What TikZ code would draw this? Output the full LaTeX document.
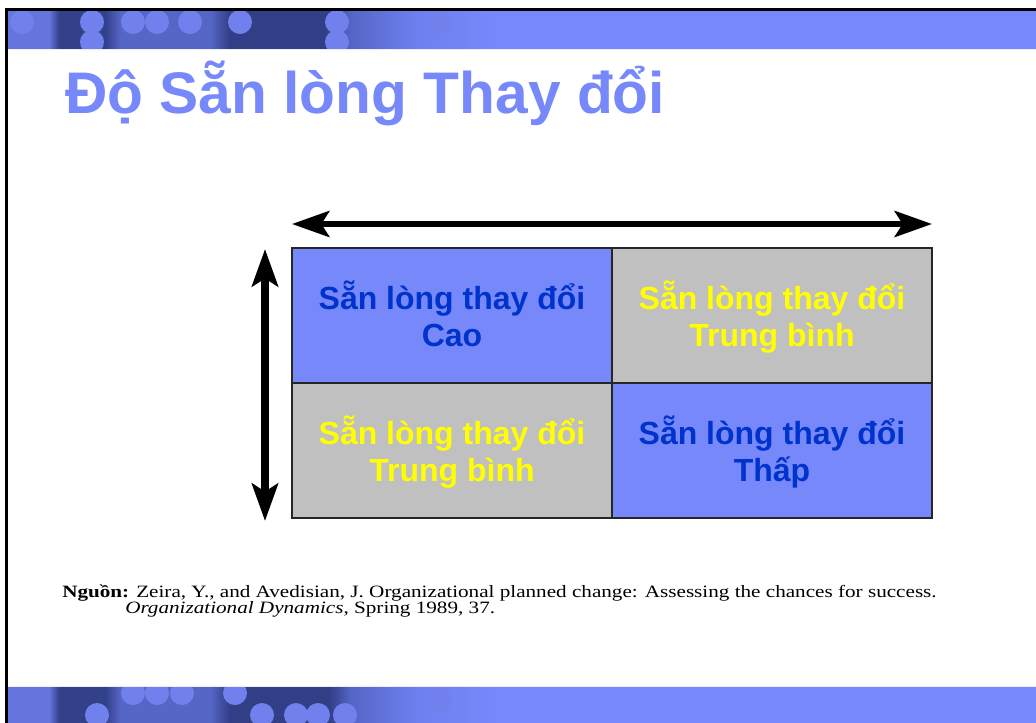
\documentclass[tikz,border=0pt]{standalone}
\usepackage{fontspec}
\setmainfont{Liberation Serif}
\newfontfamily\arialfont{Liberation Sans}
\newfontfamily\widetimes[FakeStretch=1.22]{Liberation Serif}
\usetikzlibrary{arrows.meta}
\definecolor{bandblue}{HTML}{7789FA}
\definecolor{cellblue}{HTML}{7789FA}
\definecolor{cellgray}{HTML}{C0C0C0}
\definecolor{txtblue}{HTML}{0033CC}
\definecolor{txtyellow}{HTML}{FFFF00}
\definecolor{circblue}{HTML}{7081EE}
\definecolor{hA}{HTML}{6575DE}
\definecolor{hB}{HTML}{33408A}
\definecolor{hC}{HTML}{5666C6}
\definecolor{hD}{HTML}{323E86}
\definecolor{hE}{HTML}{5465C6}
\definecolor{hF}{HTML}{6E80F0}
\pgfdeclarehorizontalshading{hdrshade}{100bp}{%
 color(0bp)=(hA); color(25bp)=(hA); color(29bp)=(hA); color(30bp)=(hB);
 color(34.5bp)=(hB); color(36bp)=(hC); color(44.7bp)=(hC); color(46.7bp)=(hD);
 color(56.4bp)=(hD); color(58.4bp)=(hE); color(65bp)=(hF); color(73bp)=(bandblue);
 color(100bp)=(bandblue)}
\tikzset{
  cellbox/.style={draw=black!85, line width=0.9pt, minimum width=240pt, minimum height=101.25pt, inner sep=0pt},
  bluecell/.style={cellbox, fill=cellblue},
  graycell/.style={cellbox, fill=cellgray},
  celltext/.style={align=center, inner sep=0pt, font=\arialfont\bfseries\fontsize{24}{27.75}\selectfont},
  bluetext/.style={celltext, text=txtblue},
  yellowtext/.style={celltext, text=txtyellow},
  harrow/.style={line width=4.5pt, {Stealth[length=28pt,width=19.5pt,inset=6pt]}-{Stealth[length=28pt,width=19.5pt,inset=6pt]}},
  varrow/.style={line width=6pt, {Stealth[length=28pt,width=19.5pt,inset=6pt]}-{Stealth[length=28pt,width=19.5pt,inset=6pt]}},
  deco/.style={fill=circblue},
  srctext/.style={anchor=base west, inner sep=0pt, font=\widetimes\fontsize{13}{16}\selectfont}
}
\begin{document}
\begin{tikzpicture}[x=0.75pt,y=-0.75pt]
\useasboundingbox (0,0) rectangle (1036,722);
\fill[white] (-5,-5) rectangle (1045,730);
% frame lines
\fill[black] (5,8) rectangle (1045,11);
\fill[black] (5,8) rectangle (8,730);
% header band
\fill[bandblue] (8,11) rectangle (1045,49);
\fill[shading=hdrshade] (8,11) rectangle (520,49);
\begin{scope}
\clip (8,11) rectangle (520,49);
\foreach \cx/\cy in {22/22, 92/22, 92/42, 133/22, 157/22, 190/22, 240/22, 337/22, 337/42, 440/22}
  \fill[deco] (\cx,\cy) circle (12);
\end{scope}
\fill[white!85!bandblue] (8,49) rectangle (1045,50);
% footer band
\fill[bandblue] (8,687) rectangle (1045,730);
\fill[shading=hdrshade] (8,687) rectangle (520,730);
\begin{scope}
\clip (8,687) rectangle (520,730);
\foreach \cx/\cy in {97/715, 133/693, 157/693, 182/693, 235/693, 262/715, 296/715, 318/715, 345/715, 440/700}
  \fill[deco] (\cx,\cy) circle (12);
\end{scope}
\fill[white!85!bandblue] (8,686) rectangle (1045,687);
% title
\node[anchor=base west, inner sep=0pt, text=bandblue, font=\arialfont\bfseries\fontsize{44}{50}\selectfont] (title) at (65,113) {Độ Sẵn lòng Thay đổi};
% cells
\node[bluecell] (tl) at (452,315.5) {};
\node[graycell] (tr) at (772,315.5) {};
\node[graycell] (bl) at (452,450.5) {};
\node[bluecell] (br) at (772,450.5) {};
\node[bluetext] (tlt) at ([yshift=-3pt]tl.center) {\strut Sẵn lòng thay đổi\\\strut Cao};
\node[yellowtext] (trt) at ([yshift=-3pt]tr.center) {\strut Sẵn lòng thay đổi\\\strut Trung bình};
\node[yellowtext] (blt) at ([yshift=-3pt]bl.center) {\strut Sẵn lòng thay đổi\\\strut Trung bình};
\node[bluetext] (brt) at ([yshift=-3pt]br.center) {\strut Sẵn lòng thay đổi\\\strut Thấp};
% arrows
\coordinate (hl) at (292,224);
\coordinate (hr) at (932,224);
\coordinate (vt) at (265,249);
\coordinate (vb) at (265,521);
\draw[harrow] (hl) -- (hr);
\draw[varrow] (vt) -- (vb);
% footnote
\node[srctext] (src1) at (62,597) {\textbf{Nguồn:} Zeira, Y., and Avedisian, J. Organizational planned change: Assessing the chances for success.};
\node[srctext] (src2) at (125,613) {\textit{Organizational Dynamics}, Spring 1989, 37.};
\end{tikzpicture}
\end{document}
